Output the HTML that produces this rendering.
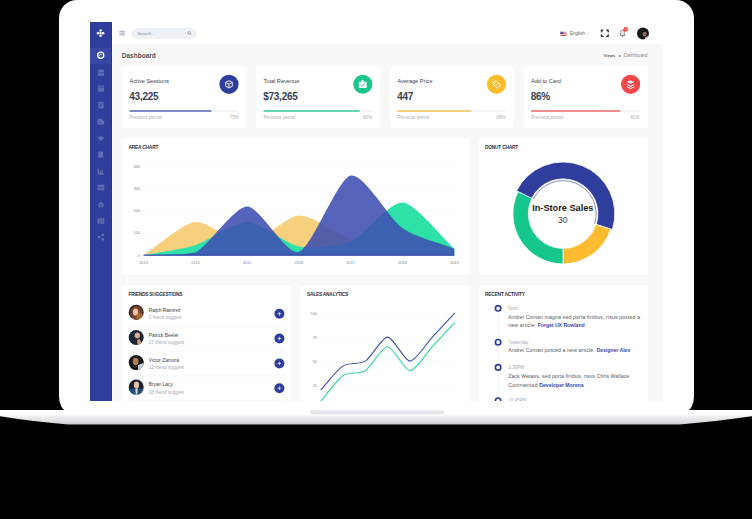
<!DOCTYPE html>
<html><head><meta charset="utf-8">
<style>
*{margin:0;padding:0;box-sizing:border-box}
html,body{width:752px;height:519px;overflow:hidden;background:#000}
body{position:relative;font-family:"Liberation Sans",sans-serif;color:#333}
.a{position:absolute}
.lid{left:58.9px;top:-0.5px;width:634.8px;height:411px;background:#fff;border-radius:18px 18px 8px 8px / 18px 18px 15px 15px}
.side{left:90px;top:22px;width:22px;height:379px;background:#2f3e9c}
.top{left:112px;top:22px;width:551px;height:22px;background:#fff}
.content{left:112px;top:44px;width:551px;height:357px;background:#f8f8f8}
.card{background:#fff;border-radius:2px}
.t{position:absolute;white-space:nowrap;line-height:1}
</style></head><body>
<div class="a lid"></div>
<svg class="a" style="left:0;top:0" width="752" height="519" viewBox="0 0 752 519">
  <defs>
    <linearGradient id="base" x1="0" y1="0" x2="0" y2="1">
      <stop offset="0" stop-color="#ffffff"/>
      <stop offset="0.3" stop-color="#fefefe"/>
      <stop offset="0.45" stop-color="#f0f0f3"/>
      <stop offset="0.85" stop-color="#d9d9df"/>
      <stop offset="1" stop-color="#c4c4cc"/>
    </linearGradient>
  </defs>
  <path d="M0,410 L752,410 L752,416.2 Q716,421.5 680,424.6 L68,424.6 Q32,421.5 0,416.3 Z" fill="url(#base)"/>
  <path d="M310,410.5 L444,410.5 L444,412 Q444,414.2 441.5,414.2 L312.5,414.2 Q310,414.2 310,412 Z" fill="#e3e4ea"/>
</svg>
<div class="a side"></div>
<div class="a top"></div>
<div class="a content"></div>

<!-- sidebar -->
<div class="a" style="left:90px;top:48px;width:22px;height:16px;background:#3747a6"></div>
<div class="a" style="left:111.2px;top:22px;width:0.8px;height:379px;background:#27358f"></div>
<svg class="a" style="left:0;top:0" width="752" height="519" viewBox="0 0 752 519">
  <g fill="#fff">
    <circle cx="100.6" cy="30.6" r="1.25"/><circle cx="100.6" cy="35.8" r="1.25"/>
    <circle cx="98" cy="33.2" r="1.25"/><circle cx="103.2" cy="33.2" r="1.25"/>
    <rect x="99.5" y="32.1" width="2.2" height="2.2"/>
  </g>
  <circle cx="100.7" cy="55.2" r="3.05" fill="none" stroke="#fff" stroke-width="1.3"/>
  <path d="M99.6,56.3 A1.3,1.3 0 1 1 101.9,55.2" fill="none" stroke="#fff" stroke-width="0.8"/>
  <g fill="#fff" fill-opacity="0.24">
    <path d="M98.6,69.5 H103.4 L104,72 V75.2 Q104,75.7 103.5,75.7 H98.5 Q98,75.7 98,75.2 V72 Z"/>
    <rect x="97.9" y="85.6" width="6.2" height="6.2" rx="0.6"/>
    <rect x="98.3" y="101.8" width="5.2" height="6.6" rx="0.6"/>
    <path d="M97.5,118.8 H101.6 L104.2,121.4 V124.4 H97.5 Z"/>
    <path d="M97.5,137.8 Q100.8,134.5 104.1,137.8 L100.8,141.2 Z"/>
    <rect x="98.3" y="151.4" width="4.8" height="6.2" rx="0.6"/>
    <path d="M97.8,168.5 H99 V173.6 H104.3 V174.8 H97.8 Z M99.8,171 H101 V173.4 H99.8 Z M101.6,169.8 H102.8 V173.4 H101.6 Z"/>
    <rect x="97.6" y="184.8" width="6.7" height="5.6" rx="0.4"/>
    <circle cx="101" cy="205" r="2.6"/>
    <path d="M97.6,218.6 L99.8,217.8 L102.1,218.6 L104.3,217.8 V223.4 L102.1,224.2 L99.8,223.4 L97.6,224.2 Z"/>
    <circle cx="103" cy="234.8" r="1.2"/><circle cx="98.8" cy="237.1" r="1.2"/><circle cx="103" cy="239.4" r="1.2"/>
  </g>
  <g fill="none" stroke="#2f3e9c" stroke-width="0.6">
    <path d="M98.2,72.6 H99.8 Q101,74 102.2,72.6 H103.8"/>
    <path d="M97.9,87.3 H104.1 M99.5,85.2 V86.4 M102.5,85.2 V86.4"/>
    <path d="M99.4,104 H102.4 M99.4,105.4 H102.4 M99.4,106.8 H101.4"/>
    <path d="M99.8,121.2 V123.2 M101.6,122 V123.2"/>
    <path d="M101,186.8 V190.6 M97.6,187.6 H104.3"/>
    <circle cx="101" cy="205" r="1.1"/>
    <path d="M99.8,218 V223.6 M102.1,218.6 V224"/>
  </g>
  <path d="M103,234.8 L98.8,237.1 L103,239.4" fill="none" stroke="#fff" stroke-opacity="0.24" stroke-width="0.6"/>
  <path d="M100,203.5 L101,201 L102,203.5" fill="#fff" fill-opacity="0.24"/>
  <!-- topbar icons -->
  <g fill="#a3adc0"><rect x="119.3" y="30.8" width="5.7" height="1"/><rect x="119.3" y="32.6" width="5.7" height="1"/><rect x="119.3" y="34.4" width="5.7" height="1"/></g>
  <rect x="131.5" y="27.9" width="65" height="10.9" rx="5.45" fill="#eef1f6"/>
  <circle cx="189.2" cy="32.8" r="1.3" fill="none" stroke="#777" stroke-width="0.6"/>
  <path d="M190.1,33.7 L191,34.6" stroke="#777" stroke-width="0.6"/>
  <!-- flag -->
  <rect x="560.5" y="31.8" width="6" height="4.2" fill="#e25a5a"/>
  <rect x="560.5" y="32.6" width="6" height="0.6" fill="#fff"/><rect x="560.5" y="34.2" width="6" height="0.6" fill="#fff"/>
  <rect x="560.5" y="31.8" width="2.6" height="2.2" fill="#3b4fa0"/>
  <path d="M586.5,33.2 L587.6,34.3 L588.7,33.2" fill="none" stroke="#999" stroke-width="0.5"/>
  <!-- fullscreen -->
  <g fill="none" stroke="#3c3c3c" stroke-width="1">
    <path d="M601.3,32.4 V30.1 H603.6 M606,30.1 H608.3 V32.4 M601.3,34.2 V36.5 H603.6 M606,36.5 H608.3 V34.2"/>
  </g>
  <g fill="#333"><rect x="600.9" y="29.7" width="1.7" height="1.7"/><rect x="607" y="29.7" width="1.7" height="1.7"/><rect x="600.9" y="35.2" width="1.7" height="1.7"/><rect x="607" y="35.2" width="1.7" height="1.7"/></g>
  <!-- bell -->
  <path d="M620,35.3 L625,35.3 L624.2,34.2 L624.2,32.2 Q624.2,30 622.5,30 Q620.8,30 620.8,32.2 L620.8,34.2 Z" fill="none" stroke="#555" stroke-width="0.7"/>
  <circle cx="622.5" cy="36.3" r="0.6" fill="#555"/>
  <circle cx="625.7" cy="29.4" r="2.3" fill="#f0463c"/><path d="M625.4,28.5 L625.9,28.1 V30.6" fill="none" stroke="#fff" stroke-width="0.55"/>
  <!-- avatar top -->
  <g clip-path="url(#avt)">
  <rect x="636" y="27" width="14" height="14" fill="#1a1a1a"/>
  <ellipse cx="644.6" cy="33.8" rx="2" ry="2.7" fill="#8f6a58"/>
  <path d="M642,31.6 Q644.5,29.3 647,31.4 L646.8,32.2 Q644.5,31 642.4,32.6 Z" fill="#0d0d0d"/>
  <path d="M645,37.5 L649,35.5 L650,41 L645,41 Z" fill="#c9ccd2"/>
  </g>
</svg>

<div class="t" style="left:137.6px;top:31.7px;font-size:4.4px;color:#7d8390">Search..</div>
<div class="t" style="left:570px;top:31.6px;font-size:4.5px;color:#666">English</div>
<div class="t" style="left:121.8px;top:52.6px;font-size:6.5px;color:#50545f;font-weight:bold">Dashboard</div>
<div class="t" style="left:603.5px;top:53.8px;font-size:4.2px;color:#666;font-weight:bold">Views</div>
<div class="t" style="left:619.3px;top:53.6px;font-size:4.4px;color:#666">&#9656;</div>
<div class="t" style="left:624px;top:53.6px;font-size:4.8px;color:#8a8d96">Dashboard</div>

<!-- cards -->
<div class="a card" style="left:122px;top:67px;width:124px;height:61px"></div>
<div class="a card" style="left:256px;top:67px;width:124px;height:61px"></div>
<div class="a card" style="left:390px;top:67px;width:124px;height:61px"></div>
<div class="a card" style="left:524px;top:67px;width:124px;height:61px"></div>

<div class="t" style="left:129.6px;top:79px;font-size:5.6px;color:#3d404c;font-weight:normal">Active Sessions</div>
<div class="t" style="left:263.5px;top:79px;font-size:5.6px;color:#3d404c;font-weight:normal">Total Revenue</div>
<div class="t" style="left:397.5px;top:79px;font-size:5.6px;color:#3d404c;font-weight:normal">Average Price</div>
<div class="t" style="left:531px;top:79px;font-size:5.6px;color:#3d404c;font-weight:normal">Add to Card</div>

<div class="t" style="left:129.3px;top:92px;font-size:10px;letter-spacing:-0.25px;color:#3b4150;font-weight:bold">43,225</div>
<div class="t" style="left:263.2px;top:92px;font-size:10px;letter-spacing:-0.25px;color:#3b4150;font-weight:bold">$73,265</div>
<div class="t" style="left:397.2px;top:92px;font-size:10px;letter-spacing:-0.25px;color:#3b4150;font-weight:bold">447</div>
<div class="t" style="left:530.7px;top:92px;font-size:10px;letter-spacing:-0.25px;color:#3b4150;font-weight:bold">86%</div>

<div class="t" style="left:129.6px;top:116px;font-size:4.6px;color:#abafb7">Previous period</div>
<div class="t" style="left:263.5px;top:116px;font-size:4.6px;color:#abafb7">Previous period</div>
<div class="t" style="left:397.5px;top:116px;font-size:4.6px;color:#abafb7">Previous period</div>
<div class="t" style="left:531px;top:116px;font-size:4.6px;color:#abafb7">Previous period</div>
<div class="t" style="left:229.6px;top:116px;font-size:4.6px;color:#abafb7">75%</div>
<div class="t" style="left:362.8px;top:116px;font-size:4.6px;color:#abafb7">88%</div>
<div class="t" style="left:496.5px;top:116px;font-size:4.6px;color:#abafb7">68%</div>
<div class="t" style="left:630.5px;top:116px;font-size:4.6px;color:#abafb7">82%</div>

<svg class="a" style="left:0;top:0" width="752" height="519" viewBox="0 0 752 519">
  <g>
    <rect x="129.6" y="110.2" width="109" height="1.6" fill="#eef0f4"/>
    <rect x="129.6" y="110.2" width="81.8" height="1.6" fill="#6470c0"/>
    <rect x="263.5" y="110.2" width="108.5" height="1.6" fill="#eef0f4"/>
    <rect x="263.5" y="110.2" width="96.1" height="1.6" fill="#43cfa0"/>
    <rect x="397.5" y="110.2" width="108.1" height="1.6" fill="#eef0f4"/>
    <rect x="397.5" y="110.2" width="73.7" height="1.6" fill="#f6c75e"/>
    <rect x="531" y="110.2" width="108.7" height="1.6" fill="#eef0f4"/>
    <rect x="531" y="110.2" width="89.3" height="1.6" fill="#f17272"/>
  </g>
  <circle cx="229" cy="84.3" r="9.6" fill="#2f3e9c"/>
  <circle cx="362.8" cy="84.3" r="9.5" fill="#19c68d"/>
  <circle cx="496.5" cy="84.3" r="9.6" fill="#fbbd2c"/>
  <circle cx="630.6" cy="84.3" r="9.6" fill="#f5484a"/>
  <!-- cube icon -->
  <g fill="none" stroke="#fff" stroke-width="0.9" stroke-linejoin="round">
    <path d="M229,80.6 L232.3,82.4 L232.3,86.2 L229,88 L225.7,86.2 L225.7,82.4 Z M225.7,82.4 L229,84.2 L232.3,82.4 M229,84.2 L229,88"/>
  </g>
  <!-- bag icon -->
  <g fill="#fff"><path d="M358.9,81.8 L366.7,81.8 L366.7,88 L358.9,88 Z"/><circle cx="362.5" cy="80.9" r="1.2"/></g>
  <path d="M360.6,85 L361.9,86.2 L364.6,83.4" fill="none" stroke="#19c68d" stroke-width="0.85"/>
  <!-- tag icon -->
  <path d="M493,82.3 L496,80.6 L500.5,85.1 L497.3,88.3 L492.8,83.8 Z" fill="none" stroke="#fff" stroke-width="0.9" stroke-linejoin="round"/>
  <circle cx="495" cy="82.9" r="0.7" fill="#fff"/>
  <path d="M495.3,86 L497.7,83.6" stroke="#fff" stroke-width="0.7"/>
  <!-- layers icon -->
  <g fill="#fff">
    <path d="M630.6,80.2 L634.2,82 L630.6,83.8 L627,82 Z"/>
    <path d="M627,84 L630.6,85.8 L634.2,84 L634.2,84.9 L630.6,86.7 L627,84.9 Z"/>
    <path d="M627,86.3 L630.6,88.1 L634.2,86.3 L634.2,87.2 L630.6,89 L627,87.2 Z"/>
  </g>
</svg>

<!-- chart panels -->
<div class="a card" style="left:122px;top:139px;width:347px;height:136px"></div>
<div class="a card" style="left:479px;top:139px;width:169px;height:136px"></div>
<div class="a card" style="left:122px;top:285.4px;width:168.6px;height:115.6px"></div>
<div class="a card" style="left:300.4px;top:285.4px;width:168.6px;height:115.6px"></div>
<div class="a card" style="left:478.6px;top:285.4px;width:169.2px;height:115.6px"></div>

<div class="t" style="left:128.6px;top:145.9px;font-size:4.8px;letter-spacing:-0.2px;color:#2d3142;font-weight:bold">AREA CHART</div>
<div class="t" style="left:485px;top:145.9px;font-size:4.8px;letter-spacing:-0.2px;color:#2d3142;font-weight:bold">DONUT CHART</div>
<div class="t" style="left:128.5px;top:293.1px;font-size:4.8px;letter-spacing:-0.2px;color:#2d3142;font-weight:bold">FRIENDS SUGGESTIONS</div>
<div class="t" style="left:306.9px;top:293.1px;font-size:4.8px;letter-spacing:-0.2px;color:#2d3142;font-weight:bold">SALES ANALYTICS</div>
<div class="t" style="left:485.1px;top:293.1px;font-size:4.8px;letter-spacing:-0.2px;color:#2d3142;font-weight:bold">RECENT ACTIVITY</div>

<svg class="a" style="left:0;top:0" width="752" height="519" viewBox="0 0 752 519">
  <g stroke="#f1f2f5" stroke-width="0.5">
    <path d="M144,166.7 H455 M144,188.8 H455 M144,211 H455 M144,233.1 H455"/>
  </g>
  <path fill="#f6d07c" d="M143.5,255.3 C156.4,247.0 182.4,223.5 195.3,222.1 C208.2,220.7 234.2,245.1 247.1,244.2 C260.1,243.4 285.9,216.1 298.9,215.4 C311.8,214.8 337.8,234.0 350.7,238.7 C363.6,243.4 389.6,251.0 402.5,253.1 C415.4,255.2 441.3,254.7 454.3,255.3 L454.3,255.3 L143.5,255.3 Z"/>
  <path fill="#2de1a8" d="M143.5,255.3 C156.4,252.8 182.4,249.5 195.3,245.3 C208.2,241.2 234.2,222.0 247.1,222.1 C260.1,222.2 285.9,244.0 298.9,246.4 C311.8,248.9 337.8,247.1 350.7,241.6 C363.6,236.1 389.6,201.7 402.5,202.6 C415.4,203.5 441.3,237.1 454.3,248.7 L454.3,255.3 L143.5,255.3 Z"/>
  <path fill="#3e4eb0" fill-opacity="0.88" d="M143.5,255.3 C156.4,254.6 182.4,255.3 195.3,252.6 C208.2,246.6 234.2,206.7 247.1,206.6 C260.1,206.5 285.9,255.3 298.9,252.0 C311.8,248.1 337.8,178.6 350.7,175.6 C363.6,172.6 389.6,219.2 402.5,228.3 C415.4,237.4 441.3,243.6 454.3,248.7 L454.3,255.3 L143.5,255.3 Z"/>
  <rect x="143.5" y="254.6" width="311" height="1.2" fill="#3a4cb0"/>
  <g font-family="Liberation Sans" font-size="3.9" fill="#7e828c" text-anchor="end">
    <text x="140" y="168">400</text><text x="140" y="190.1">300</text><text x="140" y="212.3">200</text><text x="140" y="234.4">100</text><text x="140" y="256.8">0</text>
  </g>
  <g font-family="Liberation Sans" font-size="3.9" fill="#7e828c" text-anchor="middle">
    <text x="143.5" y="263.8">2013</text><text x="195.3" y="263.8">2014</text><text x="247.1" y="263.8">2015</text><text x="298.9" y="263.8">2016</text><text x="350.7" y="263.8">2017</text><text x="402.5" y="263.8">2018</text><text x="454.3" y="263.8">2019</text>
  </g>
  <!-- donut -->
  <g stroke="#fff" stroke-width="0.8" stroke-linejoin="round">
    <path fill="#2f3e9c" d="M516.52,190.93 A51.8,51.8 0 0 1 612.32,229.64 L596.23,224.47 A34.9,34.9 0 0 0 531.69,198.39 Z"/>
    <path fill="#fdbb2f" d="M610.70,229.12 A50.1,50.1 0 0 1 563.00,263.90 L563.00,248.40 A34.6,34.6 0 0 0 595.94,224.38 Z"/>
    <path fill="#15c68e" d="M563.00,263.90 A50.1,50.1 0 0 1 518.05,191.68 L531.95,198.52 A34.6,34.6 0 0 0 563.00,248.40 Z"/>
  </g>
  <path d="M533.40,198.98 A33.1,33.1 0 0 1 594.59,223.70" fill="none" stroke="#2f3e9c" stroke-width="0.6"/>
  <text x="562.8" y="210.6" font-family="Liberation Sans" font-weight="bold" font-size="9.2" fill="#1c1c1c" text-anchor="middle">In-Store Sales</text>
  <text x="562.8" y="223.2" font-family="Liberation Sans" font-size="8.6" fill="#444" text-anchor="middle">30</text>
  <!-- sales analytics -->
  <g stroke="#f3f4f6" stroke-width="0.5">
    <path d="M321,313.5 H455 M321,337.5 H455 M321,361.5 H455 M321,385.5 H455"/>
  </g>
  <g font-family="Liberation Sans" font-size="3.9" fill="#7e828c" text-anchor="end">
    <text x="317" y="314.8">100</text><text x="317" y="338.8">75</text><text x="317" y="362.8">50</text><text x="317" y="386.8">25</text>
  </g>
  <path fill="none" stroke="#3f4eae" stroke-width="1.1" d="M320.7,389.9 C326.3,383.9 337.4,369.5 343.0,365.9 C348.6,362.3 359.8,364.7 365.4,361.1 C370.9,357.5 382.1,337.1 387.7,337.1 C393.3,337.1 404.4,361.1 410.0,361.1 C415.6,361.1 426.8,343.1 432.3,337.1 C437.9,331.1 449.1,319.1 454.7,313.1"/>
  <path fill="none" stroke="#2bd9a0" stroke-width="1.1" d="M320.7,401.4 C326.3,394.9 337.4,379.3 343.0,375.5 C348.6,371.7 359.8,374.3 365.4,370.7 C370.9,367.1 382.1,346.7 387.7,346.7 C393.3,346.7 404.4,370.7 410.0,370.7 C415.6,370.7 426.8,352.7 432.3,346.7 C437.9,340.7 449.1,328.7 454.7,322.7"/>
  <!-- friends -->
  <g stroke="#eceef2" stroke-width="0.5">
    <path d="M128.5,326.3 H284 M128.5,351 H284 M128.5,375.8 H284 M128.5,400.6 H284"/>
  </g>
  <defs>
    <clipPath id="av1"><circle cx="136.2" cy="312.3" r="7.5"/></clipPath>
    <clipPath id="av2"><circle cx="136.2" cy="337.5" r="7.5"/></clipPath>
    <clipPath id="av3"><circle cx="136.2" cy="362.6" r="7.5"/></clipPath>
    <clipPath id="av4"><circle cx="136.2" cy="387.1" r="7.5"/></clipPath>
    <clipPath id="avt"><circle cx="643" cy="33.5" r="6"/></clipPath>
  </defs>
  <g clip-path="url(#av1)">
    <rect x="128" y="304" width="17" height="17" fill="#2f2a2c"/>
    <ellipse cx="136.5" cy="313" rx="6" ry="7" fill="#7a4326"/>
    <ellipse cx="135.6" cy="312.2" rx="2.6" ry="3.6" fill="#eec3a8"/>
    <ellipse cx="139.5" cy="316.5" rx="3.2" ry="3.5" fill="#a5652f"/>
    <rect x="128" y="318.5" width="6" height="3" fill="#f2ece8"/>
  </g>
  <g clip-path="url(#av2)">
    <rect x="128" y="329" width="17" height="17" fill="#1b2535"/>
    <ellipse cx="137.3" cy="335.6" rx="2.7" ry="3.2" fill="#d6ad8e"/>
    <path d="M135,337 Q137.5,340.5 140,337 L139.5,339.5 Q137.5,341.5 135.5,339.5 Z" fill="#2a2020"/>
    <path d="M137,340 L140,339 L141.5,344 L137.5,345 Z" fill="#c99a7a"/>
  </g>
  <g clip-path="url(#av3)">
    <rect x="128" y="354" width="17" height="17" fill="#141414"/>
    <ellipse cx="135.6" cy="361.5" rx="2.9" ry="3.8" fill="#b57a5a"/>
    <path d="M138,365 L143,363 L144,370 L138,370 Z" fill="#c8ccd4"/>
    <path d="M133,365 Q135.6,367 138,365 L137.5,367 Q135.6,368.5 133.5,367 Z" fill="#3a2a22"/>
  </g>
  <g clip-path="url(#av4)">
    <rect x="128" y="379" width="17" height="17" fill="#1a2232"/>
    <ellipse cx="136.5" cy="385" rx="2.6" ry="3.4" fill="#e2c0a6"/>
    <path d="M128,390 Q132,387.5 136.5,389 Q141,387.5 145,390 V396 H128 Z" fill="#1f4e7e"/>
    <path d="M135.3,388.5 L137.7,388.5 L137.2,395 L135.8,395 Z" fill="#e6d8cc"/>
  </g>
  <g fill="#2f3e9c">
    <circle cx="279.4" cy="313.8" r="5"/><circle cx="279.4" cy="338.5" r="5"/><circle cx="279.4" cy="363.4" r="5"/><circle cx="279.4" cy="388.2" r="5"/>
  </g>
  <g stroke="#fff" stroke-width="0.7">
    <path d="M277.6,313.8 H281.2 M279.4,312 V315.6"/>
    <path d="M277.6,338.5 H281.2 M279.4,336.7 V340.3"/>
    <path d="M277.6,363.4 H281.2 M279.4,361.6 V365.2"/>
    <path d="M277.6,388.2 H281.2 M279.4,386.4 V390"/>
  </g>
  <!-- timeline -->
  <path d="M498.1,308 V401" stroke="#e3e5ea" stroke-width="0.6"/>
  <g fill="#fff" stroke="#2f3e9c" stroke-width="1.7">
    <circle cx="498.1" cy="308.3" r="2.7"/><circle cx="498.1" cy="342.2" r="2.7"/><circle cx="498.1" cy="367.4" r="2.7"/><circle cx="498.1" cy="400.7" r="2.7"/>
  </g>
</svg>

<div class="t" style="left:148.8px;top:309px;font-size:4.8px;color:#3a3d48">Ralph Ramirez</div>
<div class="t" style="left:148.8px;top:316.2px;font-size:4.6px;color:#a6a9b2">3 friend suggest</div>
<div class="t" style="left:148.8px;top:333.8px;font-size:4.8px;color:#3a3d48">Patrick Beeler</div>
<div class="t" style="left:148.8px;top:341px;font-size:4.6px;color:#a6a9b2">17 friend suggest</div>
<div class="t" style="left:148.8px;top:358.6px;font-size:4.8px;color:#3a3d48">Victor Zamora</div>
<div class="t" style="left:148.8px;top:365.8px;font-size:4.6px;color:#a6a9b2">12 friend suggest</div>
<div class="t" style="left:148.8px;top:383.4px;font-size:4.8px;color:#3a3d48">Bryan Lacy</div>
<div class="t" style="left:148.8px;top:390.6px;font-size:4.6px;color:#a6a9b2">18 friend suggest</div>

<div class="t" style="left:508.3px;top:306.8px;font-size:4.6px;color:#a9acb4">Now</div>
<div class="t" style="left:508.3px;top:315.3px;font-size:5.2px;letter-spacing:0.13px;color:#555a66">Andrei Coman magna sed porta finibus, risus posted a</div>
<div class="t" style="left:508.3px;top:323.1px;font-size:5.2px;letter-spacing:0.13px;color:#555a66">new article: <b style="color:#3a4aab;letter-spacing:-0.05px">Forget UX Rowland</b></div>
<div class="t" style="left:508.3px;top:340.7px;font-size:4.6px;color:#a9acb4">Yesterday</div>
<div class="t" style="left:508.3px;top:348.2px;font-size:5.2px;letter-spacing:0.13px;color:#555a66">Andrei Coman posted a new article: <b style="color:#3a4aab;letter-spacing:-0.05px">Designer Alex</b></div>
<div class="t" style="left:508.3px;top:365.9px;font-size:4.6px;color:#a9acb4">2:30PM</div>
<div class="t" style="left:508.3px;top:374.1px;font-size:5.2px;letter-spacing:0.06px;color:#555a66">Zack Wetass, sed porta finibus, risus Chris Wallace</div>
<div class="t" style="left:508.3px;top:382.5px;font-size:5.2px;letter-spacing:0.13px;color:#555a66">Commented <b style="color:#3a4aab;letter-spacing:-0.05px">Developer Morena</b></div>
<div class="t" style="left:508.3px;top:399.2px;font-size:4.6px;color:#a9acb4">10:45PM</div>

<!-- mask below screen bottom -->
<div class="a" style="left:90px;top:401px;width:573px;height:9px;background:#fff"></div>
</body></html>
